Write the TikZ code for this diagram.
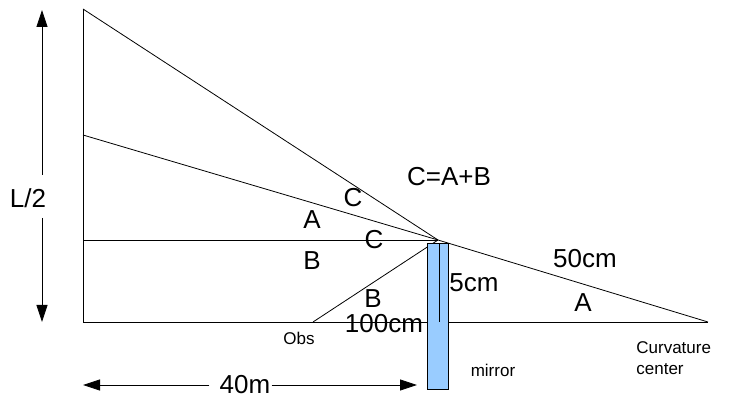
\documentclass[tikz,border=0pt]{standalone}
\usepackage{fontspec}
\setmainfont{Liberation Sans}
\usetikzlibrary{arrows.meta}
\definecolor{mirrorblue}{HTML}{99CCFF}
\begin{document}
\begin{tikzpicture}[x=1pt,y=-1pt,line width=0.8pt,
    big/.style={font=\fontsize{26}{30}\selectfont,inner sep=0pt},
    small/.style={font=\fontsize{17}{21}\selectfont,inner sep=0pt},
    dimarrow/.style={-{Triangle[length=17pt,width=11pt]}}]
        \useasboundingbox (0,0) rectangle (732,406);
        %% Points of the construction
        \coordinate (top) at (83,9);
        \coordinate (mid) at (83,135);
        \coordinate (hor) at (83,240);
        \coordinate (base) at (83,322);
        \coordinate (apex) at (438,240);
        \coordinate (obs) at (313,322);
        \coordinate (cc) at (708,322);
        %% Rays
        \draw (top) -- (base) -- (cc);
        \draw (top) -- (apex);
        \draw (mid) -- (apex);
        \draw (hor) -- (apex);
        \draw (obs) -- (apex);
        \draw (apex) -- (cc);
        %% Mirror
        \draw[fill=mirrorblue] (427,243) rectangle (448,389);
        \draw (439,243) -- (439,322);
        %% L/2 and 40m
        \node[big] (lhalf) at (28,198) {L/2};
        \draw[dimarrow] (42,175) -- (42,10);
        \draw[dimarrow] (42,218) -- (42,322);
        \node[big] (dist) at (245,385) {40m};
        \draw[dimarrow] ([xshift=-10pt]dist.west) -- (83,385);
        \draw[dimarrow] ([xshift=1pt]dist.east) -- (417,385);
        %% Angles and lengths
        \node[big] (rule) at (449,177) {C=A+B};
        \node[big] (c1) at (353,198) {C};
        \node[big] (a1) at (312,220) {A};
        \node[big] (c2) at (374,240) {C};
        \node[big] (b1) at (312,261) {B};
        \node[big] (b2) at (373,299) {B};
        \node[big] (fivecm) at (474,283) {5cm};
        \node[big] (fiftycm) at (585,259) {50cm};
        \node[big] (a2) at (583,303) {A};
        \node[big] (hundredcm) at (384,324) {100cm};
        \node[small] (obslabel) at (299,338) {Obs};
        \node[small] (mirror) at (493,370) {mirror};
        \node[small,anchor=north west,align=left] (cclabel) at (636,341) {Curvature\\center};
    \end{tikzpicture}
\end{document}
